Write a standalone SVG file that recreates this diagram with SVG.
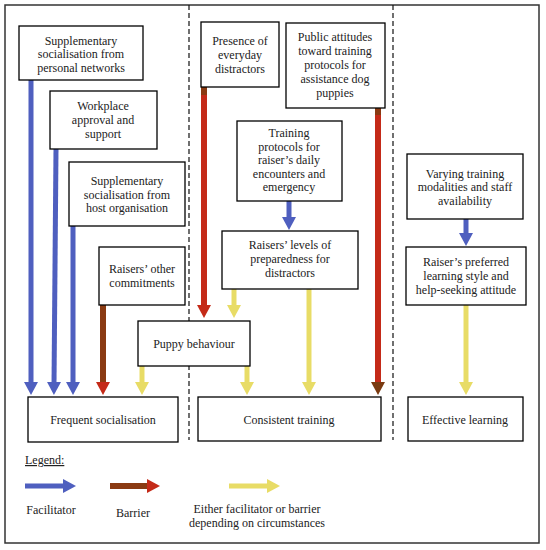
<svg xmlns="http://www.w3.org/2000/svg" width="546" height="550" viewBox="0 0 546 550">
<style>
.box{fill:#fff;stroke:#000;stroke-width:1.3}
.t{font-family:"Liberation Serif","DejaVu Serif",serif;font-size:12px;fill:#222;text-anchor:middle}
.fac{stroke:#4f5fbf;stroke-width:5;fill:none}
.bar{stroke:#c42a18;stroke-width:6;fill:none}
.brn{stroke:#8a3a12;stroke-width:6;fill:none}
.yel{stroke:#e8dc66;stroke-width:5;fill:none}
</style>
<defs>
<marker id="hb" markerUnits="userSpaceOnUse" markerWidth="14" markerHeight="14" refX="3" refY="7" orient="auto"><path d="M0,0 L13,7 L0,14z" fill="#4f5fbf"/></marker>
<marker id="hr" markerUnits="userSpaceOnUse" markerWidth="14" markerHeight="14" refX="3" refY="7" orient="auto"><path d="M0,0 L13,7 L0,14z" fill="#c42a18"/></marker>
<marker id="hn" markerUnits="userSpaceOnUse" markerWidth="14" markerHeight="14" refX="3" refY="7" orient="auto"><path d="M0,0 L13,7 L0,14z" fill="#7a3a10"/></marker>
<marker id="hy" markerUnits="userSpaceOnUse" markerWidth="14" markerHeight="14" refX="3" refY="7" orient="auto"><path d="M0,0 L13,7 L0,14z" fill="#e8dc66"/></marker>
</defs>
<rect x="0" y="0" width="546" height="550" fill="#fff"/>
<rect x="5" y="5" width="534" height="538" fill="none" stroke="#333" stroke-width="1.5"/>
<g id="dividers" stroke="#111" stroke-width="1.2" stroke-dasharray="5,3">
<line x1="189" y1="5" x2="189" y2="440"/>
<line x1="393" y1="5" x2="393" y2="440"/>
</g>

<g id="connectors">
<line class="fac" x1="31" y1="80" x2="31" y2="385" marker-end="url(#hb)"/>
<line class="fac" x1="56" y1="149" x2="54" y2="385" marker-end="url(#hb)"/>
<line class="fac" x1="73" y1="226" x2="73" y2="385" marker-end="url(#hb)"/>
<line class="brn" x1="103" y1="305" x2="103" y2="385" marker-end="url(#hr)"/>
<line class="yel" x1="142" y1="366" x2="142" y2="385" marker-end="url(#hy)"/>
<line class="bar" x1="204" y1="87" x2="204" y2="308" marker-end="url(#hr)"/>
<line class="brn" x1="204" y1="87" x2="204" y2="95"/>
<line class="yel" x1="234" y1="289" x2="234" y2="308" marker-end="url(#hy)"/>
<line class="yel" x1="247" y1="366" x2="247" y2="385" marker-end="url(#hy)"/>
<line class="yel" x1="309" y1="289" x2="309" y2="385" marker-end="url(#hy)"/>
<line class="bar" x1="378" y1="108" x2="378" y2="385" marker-end="url(#hn)"/>
<line class="brn" x1="378" y1="108" x2="378" y2="115"/>
<line class="fac" x1="289" y1="201" x2="289" y2="220" marker-end="url(#hb)"/>
<line class="fac" x1="466" y1="219" x2="466" y2="236" marker-end="url(#hb)"/>
<line class="yel" x1="466" y1="305" x2="466" y2="385" marker-end="url(#hy)"/>
</g>

<g id="n1"><rect class="box" x="19" y="26" width="124" height="54"/>
<text class="t" x="81" y="45">Supplementary</text><text class="t" x="81" y="58">socialisation from</text><text class="t" x="81" y="72">personal networks</text></g>
<g id="n2"><rect class="box" x="50" y="91" width="107" height="58"/>
<text class="t" x="103" y="110">Workplace</text><text class="t" x="103" y="124">approval and</text><text class="t" x="103" y="138">support</text></g>
<g id="n3"><rect class="box" x="69" y="162" width="116" height="64"/>
<text class="t" x="127" y="185">Supplementary</text><text class="t" x="127" y="199">socialisation from</text><text class="t" x="127" y="212">host organisation</text></g>
<g id="n4"><rect class="box" x="99" y="247" width="86" height="58"/>
<text class="t" x="142" y="273">Raisers’ other</text><text class="t" x="142" y="287">commitments</text></g>
<g id="n5"><rect class="box" x="138" y="321" width="112" height="45"/>
<text class="t" x="194" y="348">Puppy behaviour</text></g>
<g id="n6"><rect class="box" x="28" y="397" width="150" height="45"/>
<text class="t" x="103" y="424">Frequent socialisation</text></g>
<g id="n7"><rect class="box" x="201" y="22" width="78" height="65"/>
<text class="t" x="240" y="45">Presence of</text><text class="t" x="240" y="59">everyday</text><text class="t" x="240" y="73">distractors</text></g>
<g id="n8"><rect class="box" x="286" y="23" width="99" height="85"/>
<text class="t" x="335" y="41">Public attitudes</text><text class="t" x="335" y="55">toward training</text><text class="t" x="335" y="69">protocols for</text><text class="t" x="335" y="83">assistance dog</text><text class="t" x="335" y="97">puppies</text></g>
<g id="n9"><rect class="box" x="237" y="121" width="105" height="80"/>
<text class="t" x="289" y="137">Training</text><text class="t" x="289" y="151">protocols for</text><text class="t" x="289" y="164">raiser’s daily</text><text class="t" x="289" y="178">encounters and</text><text class="t" x="289" y="191">emergency</text></g>
<g id="n10"><rect class="box" x="222" y="231" width="136" height="58"/>
<text class="t" x="290" y="249">Raisers’ levels of</text><text class="t" x="290" y="263">preparedness for</text><text class="t" x="290" y="277">distractors</text></g>
<g id="n11"><rect class="box" x="198" y="397" width="183" height="44"/>
<text class="t" x="289" y="424">Consistent training</text></g>
<g id="n12"><rect class="box" x="407" y="154" width="116" height="65"/>
<text class="t" x="465" y="178">Varying training</text><text class="t" x="465" y="191">modalities and staff</text><text class="t" x="465" y="205">availability</text></g>
<g id="n13"><rect class="box" x="406" y="247" width="120" height="58"/>
<text class="t" x="466" y="266">Raiser’s preferred</text><text class="t" x="466" y="280">learning style and</text><text class="t" x="466" y="294">help-seeking attitude</text></g>
<g id="n14"><rect class="box" x="408" y="397" width="115" height="44"/>
<text class="t" x="465" y="424">Effective learning</text></g>

<g id="legend">
<text class="t" x="25" y="464" style="text-anchor:start;text-decoration:underline">Legend:</text>
<line class="fac" x1="25" y1="486" x2="66" y2="486" marker-end="url(#hb)"/>
<line class="brn" x1="110" y1="486" x2="150" y2="486" marker-end="url(#hr)"/>
<line class="yel" x1="229" y1="486" x2="270" y2="486" marker-end="url(#hy)"/>
<text class="t" x="51" y="514">Facilitator</text>
<text class="t" x="133" y="517">Barrier</text>
<text class="t" x="257" y="513">Either facilitator or barrier</text>
<text class="t" x="257" y="527">depending on circumstances</text>
</g>
</svg>
